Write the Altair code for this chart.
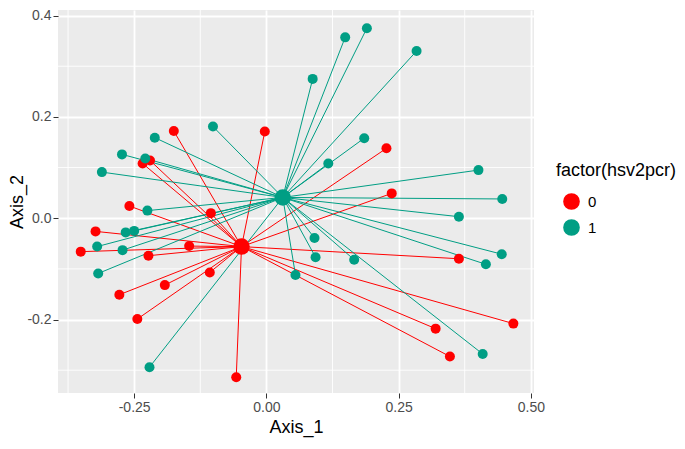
import altair as alt
import pandas as pd

# group "0" (red) sample coordinates
red_x = [-0.175, -0.003, -0.234, -0.220, -0.259, -0.105, -0.323, -0.351, -0.146, -0.223,
         -0.107, -0.192, -0.278, -0.244, -0.057, 0.227, 0.237, 0.364, 0.467, 0.320, 0.347]
red_y = [0.172, 0.171, 0.108, 0.114, 0.024, 0.010, -0.026, -0.066, -0.055, -0.074,
         -0.107, -0.132, -0.151, -0.199, -0.314, 0.138, 0.049, -0.080, -0.208, -0.218, -0.273]
# group "1" (teal) sample coordinates
teal_x = [0.0875, -0.101, -0.211, -0.273, -0.229, -0.311, -0.225, -0.266, -0.250, -0.320,
          -0.272, -0.318, -0.221, 0.055, 0.149, 0.190, 0.284, 0.185, 0.117, 0.401,
          0.446, 0.364, 0.091, 0.093, 0.166, 0.445, 0.415, 0.409]
teal_y = [0.275, 0.181, 0.159, 0.126, 0.118, 0.091, 0.015, -0.028, -0.025, -0.056,
          -0.063, -0.109, -0.294, -0.112, 0.357, 0.375, 0.330, 0.158, 0.108, 0.095,
          0.038, 0.003, -0.039, -0.077, -0.082, -0.071, -0.091, -0.268]
# group centroids
groups = ["0", "1"]
cent_x = [-0.047, 0.031]
cent_y = [-0.056, 0.041]

x_ticks = [-0.25, 0.0, 0.25, 0.5]
y_ticks = [-0.2, 0.0, 0.2, 0.4]
x_minor = [-0.375, -0.125, 0.125, 0.375]
y_minor = [-0.3, -0.1, 0.1, 0.3]

colors = ["#FF0000", "#009E84"]

rows = []
for gx, gy, g, i in [(red_x, red_y, "0", 0), (teal_x, teal_y, "1", 1)]:
    for a, b in zip(gx, gy):
        rows.append({"x": a, "y": b, "cx": cent_x[i], "cy": cent_y[i], "g": g})
df = pd.DataFrame(rows)
cdf = pd.DataFrame({"x": cent_x, "y": cent_y, "g": groups})

xs = alt.Scale(domain=[-0.394, 0.506], nice=False, zero=False)
ys = alt.Scale(domain=[-0.345, 0.411], nice=False, zero=False)
cs = alt.Scale(domain=groups, range=colors)

xaxis = alt.Axis(values=x_ticks, title="Axis_1", grid=True, titlePadding=4,
                 labelExpr="datum.value < 0 ? '-' + format(-datum.value, '.2f') : format(datum.value, '.2f')")
yaxis = alt.Axis(values=y_ticks, title="Axis_2", grid=True, titlePadding=0,
                 labelExpr="datum.value < 0 ? '-' + format(-datum.value, '.1f') : format(datum.value, '.1f')")
leg = alt.Legend(orient="none", legendX=498, legendY=152,
                 symbolType="circle", symbolSize=230, symbolOpacity=1,
                 symbolOffset=7, labelOffset=8, rowPadding=3,
                 titlePadding=13, padding=0)
color = alt.Color("g:N", scale=cs, title="factor(hsv2pcr)", legend=leg)

minor_x = alt.Chart(pd.DataFrame({"v": x_minor})).mark_rule(color="white", strokeWidth=0.9).encode(
    x=alt.X("v:Q", scale=xs, axis=xaxis))
minor_y = alt.Chart(pd.DataFrame({"v": y_minor})).mark_rule(color="white", strokeWidth=0.9).encode(
    y=alt.Y("v:Q", scale=ys, axis=yaxis))

segs = alt.Chart(df).mark_rule(strokeWidth=1).encode(
    x=alt.X("x:Q", scale=xs, axis=xaxis),
    y=alt.Y("y:Q", scale=ys, axis=yaxis),
    x2="cx:Q", y2="cy:Q",
    color=color)

pts = alt.Chart(df).mark_circle(size=100, opacity=1).encode(
    x=alt.X("x:Q", scale=xs, axis=xaxis),
    y=alt.Y("y:Q", scale=ys, axis=yaxis),
    color=color)

cents = alt.Chart(cdf).mark_circle(size=270, opacity=1).encode(
    x=alt.X("x:Q", scale=xs, axis=xaxis),
    y=alt.Y("y:Q", scale=ys, axis=yaxis),
    color=color)

chart = alt.layer(minor_x, minor_y, segs, pts, cents).properties(
    width=476, height=383,
    autosize=alt.AutoSizeParams(type="none"),
    padding={"left": 50, "top": 2, "right": 143, "bottom": 46},
    background="white",
).configure_view(fill="#EBEBEB", stroke=None).configure_axis(
    domain=False, tickColor="#333333", tickSize=5, tickWidth=1,
    labelColor="#4D4D4D", labelFont="Liberation Sans", labelFontSize=14, labelPadding=2,
    titleFont="Liberation Sans", titleFontSize=18, titleFontWeight="normal", titleColor="black",
    gridColor="white", gridWidth=1.8,
).configure_legend(
    titleFont="Liberation Sans", titleFontSize=18, titleFontWeight="normal", titleColor="black",
    labelFont="Liberation Sans", labelFontSize=15, labelColor="black",
)

chart.save("out.html", embed_options={"renderer": "svg", "actions": False})
